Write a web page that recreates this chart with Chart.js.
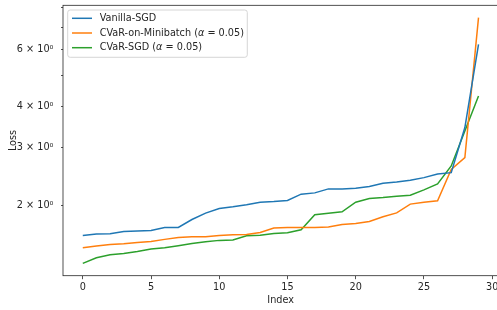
<!DOCTYPE html>
<html>
<head>
<meta charset="utf-8">
<script src="https://cdn.jsdelivr.net/npm/chart.js@4.4.1/dist/chart.umd.min.js"></script>
<style>
html, body { margin: 0; padding: 0; overflow: hidden; background: #fff; }
canvas { display: block; }
</style>
</head>
<body>
<canvas id="loss-chart" width="502" height="310"></canvas>
<script>
"use strict";
// sorted per-sample losses
const vanillaSgd = [1.625, 1.641, 1.644, 1.671, 1.676, 1.683, 1.719, 1.719, 1.817, 1.900,
    1.963, 1.986, 2.014, 2.052, 2.061, 2.076, 2.170, 2.190, 2.252, 2.252,
    2.263, 2.289, 2.344, 2.365, 2.393, 2.437, 2.501, 2.524, 3.462, 6.20];
const cvarMinibatch = [1.492, 1.510, 1.526, 1.534, 1.548, 1.559, 1.581, 1.603, 1.611, 1.611,
    1.625, 1.633, 1.637, 1.659, 1.711, 1.719, 1.719, 1.719, 1.723, 1.755,
    1.767, 1.792, 1.852, 1.904, 2.024, 2.052, 2.071, 2.581, 2.804, 7.48];
const cvarSgd = [1.336, 1.390, 1.420, 1.433, 1.453, 1.478, 1.492, 1.513, 1.537, 1.556,
    1.570, 1.574, 1.622, 1.627, 1.648, 1.656, 1.691, 1.878, 1.900, 1.918,
    2.052, 2.105, 2.120, 2.140, 2.155, 2.237, 2.333, 2.645, 3.379, 4.32];
const seriesLabels = ["Vanilla-SGD", "CVaR-on-Minibatch (α = 0.05)", "CVaR-SGD (α = 0.05)"];
const seriesColors = ["#1f77b4", "#ff7f0e", "#2ca02c"];
const xTicks = [0, 5, 10, 15, 20, 25, 30];
const yTicks = [2, 3, 4, 5, 6, 7, 8];
const yLabelled = [2, 3, 4, 6];

const FONT = "DejaVu Sans";
const FS = 9.7;
const INK = "#262626";

// matplotlib style 5% margins
const allValues = vanillaSgd.concat(cvarMinibatch, cvarSgd);
const logLo = Math.log10(Math.min(...allValues));
const logHi = Math.log10(Math.max(...allValues));
const logPad = (logHi - logLo) * 0.05;
const n = vanillaSgd.length;
const xPad = (n - 1) * 0.05;

const toPoints = (vals) => vals.map((v, i) => ({ x: i, y: v }));

const frame = {
    id: "frame",
    afterDraw(chart) {
        const { ctx, chartArea: a } = chart;
        ctx.save();
        ctx.strokeStyle = INK;
        ctx.lineWidth = 0.8;
        ctx.strokeRect(a.left, a.top, a.right - a.left, a.bottom - a.top);
        ctx.restore();
    },
};

function drawLabel(ctx, text, x, y) {
    const parts = text.split("α");
    parts.forEach((part, k) => {
        ctx.font = FS + "px '" + FONT + "'";
        ctx.fillText(part, x, y);
        x += ctx.measureText(part).width;
        if (k < parts.length - 1) {
            ctx.font = "italic " + FS + "px '" + FONT + "'";
            ctx.fillText("α", x, y);
            x += ctx.measureText("α").width;
        }
    });
}

const boxLegend = {
    id: "boxLegend",
    afterDraw(chart) {
        const ctx = chart.ctx;
        const a = chart.chartArea;
        const x0 = a.left + 4.7, y0 = a.top + 4.7, w = 179.6, h = 47.3;
        ctx.save();
        ctx.beginPath();
        ctx.roundRect(x0, y0, w, h, 2.5);
        ctx.fillStyle = "rgba(255,255,255,0.8)";
        ctx.fill();
        ctx.strokeStyle = "#cccccc";
        ctx.lineWidth = 0.8;
        ctx.stroke();
        chart.data.datasets.forEach((ds, k) => {
            const y = y0 + 8.3 + k * 14.7;
            ctx.strokeStyle = ds.borderColor;
            ctx.lineWidth = 1.5;
            ctx.beginPath();
            ctx.moveTo(x0 + 4.3, y);
            ctx.lineTo(x0 + 24.3, y);
            ctx.stroke();
            ctx.fillStyle = INK;
            ctx.textBaseline = "middle";
            ctx.textAlign = "left";
            drawLabel(ctx, ds.label, x0 + 32, y);
        });
        ctx.restore();
    },
};

const lossConfig = {
    type: "line",
    data: {
        datasets: [vanillaSgd, cvarMinibatch, cvarSgd].map((vals, k) => ({
            label: seriesLabels[k],
            data: toPoints(vals),
            borderColor: seriesColors[k],
            backgroundColor: seriesColors[k],
            borderWidth: 1.5,
            pointRadius: 0,
            tension: 0,
            fill: false,
        })),
    },
    options: {
        responsive: false,
        animation: false,
        devicePixelRatio: 1,
        layout: { padding: { top: 5.3, right: 3.7, left: 0, bottom: 0 } },
        plugins: {
            legend: { display: false },
            tooltip: { enabled: false },
        },
        scales: {
            x: {
                type: "linear",
                min: -xPad,
                max: n - 1 + xPad,
                afterBuildTicks: (s) => { s.ticks = xTicks.map((v) => ({ value: v })); },
                afterFit: (s) => {
                    s.height = 34.3;
                    s.paddingLeft = 0;
                    s.paddingRight = 0;
                },
                border: { display: false },
                grid: { drawOnChartArea: false, drawTicks: true, tickLength: 3.5, tickWidth: 0.8, tickColor: INK },
                ticks: {
                    autoSkip: false, maxRotation: 0, padding: 2,
                    font: { family: FONT, size: FS }, color: INK,
                    callback: (v) => String(v),
                },
                title: {
                    display: true, text: "Index", color: INK,
                    font: { family: FONT, size: FS },
                    padding: { top: 0, bottom: 4.2 },
                },
            },
            y: {
                type: "logarithmic",
                min: Math.pow(10, logLo - logPad),
                max: Math.pow(10, logHi + logPad),
                afterBuildTicks: (s) => { s.ticks = yTicks.map((v) => ({ value: v })); },
                afterFit: (s) => {
                    s.width = 63;
                    s.paddingTop = 0;
                    s.paddingBottom = 0;
                },
                border: { display: false },
                grid: { drawOnChartArea: false, drawTicks: true, tickLength: 2, tickWidth: 0.8, tickColor: INK },
                ticks: {
                    autoSkip: false, padding: 7.5,
                    font: { family: FONT, size: FS }, color: INK,
                    callback: (v) => (yLabelled.includes(v) ? v + " × 10⁰" : ""),
                },
                title: {
                    display: true, text: "Loss", color: INK,
                    font: { family: FONT, size: FS },
                    padding: { top: 7.5, bottom: 0 },
                },
            },
        },
    },
    plugins: [frame, boxLegend],
};

const lossChart = new Chart(document.getElementById("loss-chart"), lossConfig);
</script>
</body>
</html>
